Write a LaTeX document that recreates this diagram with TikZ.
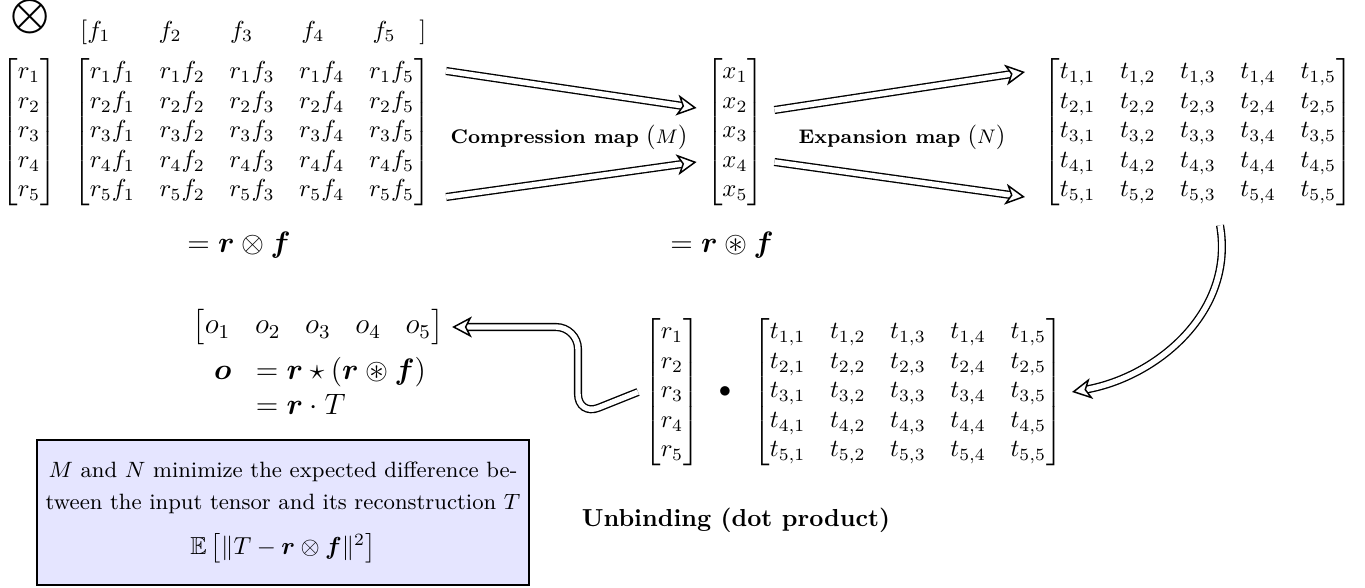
\documentclass[tikz,border=0pt]{standalone}
\usepackage{amsmath,amssymb}
\usetikzlibrary{arrows.meta,calc}
\begin{document}
\begin{tikzpicture}[x=0.4065pt,y=0.4065pt,
  mat/.style={inner sep=0pt},
  dbl/.style={double, double distance=2.2pt, line width=0.55pt, -{Stealth[open, length=8pt, width=8.5pt, inset=2.2pt, line width=0.6pt, fill=white]}},
  lbl/.style={font=\footnotesize}]
\useasboundingbox (0,0) rectangle (1365,-587);
% top row
\node[inner sep=0pt] (ot) at (30,-17) {$\displaystyle\bigotimes$};
\node[anchor=west, inner sep=0pt] (F) at (80,-32) {$\left[\makebox[29pt][l]{$f_1$}\makebox[29pt][l]{$f_2$}\makebox[29pt][l]{$f_3$}\makebox[29pt][l]{$f_4$}\makebox[19pt][l]{$f_5$}\right]$};
\node[mat] (R) at (29,-132) {$\begin{bmatrix} r_1\\ r_2\\ r_3\\ r_4\\ r_5\end{bmatrix}$};
\node[mat] (M) at (252,-132) {$\begin{bmatrix}
r_1f_1 & r_1f_2 & r_1f_3 & r_1f_4 & r_1f_5\\
r_2f_1 & r_2f_2 & r_2f_3 & r_2f_4 & r_2f_5\\
r_3f_1 & r_3f_2 & r_3f_3 & r_3f_4 & r_3f_5\\
r_4f_1 & r_4f_2 & r_4f_3 & r_4f_4 & r_4f_5\\
r_5f_1 & r_5f_2 & r_5f_3 & r_5f_4 & r_5f_5\end{bmatrix}$};
\node[mat] (X) at (735,-132) {$\begin{bmatrix} x_1\\ x_2\\ x_3\\ x_4\\ x_5\end{bmatrix}$};
\node[mat] (T) at (1198,-132) {$\begin{bmatrix}
t_{1,1} & t_{1,2} & t_{1,3} & t_{1,4} & t_{1,5}\\
t_{2,1} & t_{2,2} & t_{2,3} & t_{2,4} & t_{2,5}\\
t_{3,1} & t_{3,2} & t_{3,3} & t_{3,4} & t_{3,5}\\
t_{4,1} & t_{4,2} & t_{4,3} & t_{4,4} & t_{4,5}\\
t_{5,1} & t_{5,2} & t_{5,3} & t_{5,4} & t_{5,5}\end{bmatrix}$};
\node[lbl] (cl) at (569,-137) {\textbf{Compression map} {\normalsize$($}$M${\normalsize$)$}};
\node[lbl] (el) at (902,-137) {\textbf{Expansion map} {\normalsize$($}$N${\normalsize$)$}};
\node (e1) at (239,-245) {\large $=\boldsymbol{r}\otimes\boldsymbol{f}$};
\node (e2) at (722,-245) {\large $=\boldsymbol{r}\circledast\boldsymbol{f}$};
% arrows top
\draw[dbl] ($(M.east)+(15,61)$) -- ($(X.west)+(-9,24)$);
\draw[dbl] ($(M.east)+(15,-65)$) -- ($(X.west)+(-9,-30)$);
\draw[dbl] ($(X.east)+(10,22)$) -- ($(T.west)+(-18,60)$);
\draw[dbl] ($(X.east)+(10,-30)$) -- ($(T.west)+(-18,-65)$);
% lower row
\node[mat] (R2) at (672,-392) {$\begin{bmatrix} r_1\\ r_2\\ r_3\\ r_4\\ r_5\end{bmatrix}$};
\node (dot) at (725,-392) {$\bullet$};
\node[mat] (T2) at (908,-392) {$\begin{bmatrix}
t_{1,1} & t_{1,2} & t_{1,3} & t_{1,4} & t_{1,5}\\
t_{2,1} & t_{2,2} & t_{2,3} & t_{2,4} & t_{2,5}\\
t_{3,1} & t_{3,2} & t_{3,3} & t_{3,4} & t_{3,5}\\
t_{4,1} & t_{4,2} & t_{4,3} & t_{4,4} & t_{4,5}\\
t_{5,1} & t_{5,2} & t_{5,3} & t_{5,4} & t_{5,5}\end{bmatrix}$};
\node (ub) at (736,-520) {\bfseries Unbinding (dot product)};
\node (O) at (318,-327) {\large$\begin{bmatrix}o_1 & o_2 & o_3 & o_4 & o_5\end{bmatrix}$};
\node (eq) at (320,-390) {\large$\begin{array}{rl}\boldsymbol{o} & =\boldsymbol{r}\star(\boldsymbol{r}\circledast\boldsymbol{f})\\ & =\boldsymbol{r}\cdot T\end{array}$};
\draw[dbl] ($(T.south)+(22,-19)$) to[out=-80,in=10] ($(T2.east)+(9,0)$);
\draw[dbl, rounded corners=9pt] ($(R2.west)+(-6,0)$) -- (578,-416) -- (578,-327) -- (O.east);
% box
\node[draw=black, thick, fill=blue!10, minimum width=199pt, minimum height=59pt, align=center, font=\small] (box) at (283,-512.5)
 {$M$ and $N$ minimize the expected difference be-\\[2pt]tween the input tensor and its reconstruction $T$\\[7pt]{\normalsize$\mathbb{E}\left[\lVert T-\boldsymbol{r}\otimes\boldsymbol{f}\rVert^2\right]$}};
\end{tikzpicture}
\end{document}
